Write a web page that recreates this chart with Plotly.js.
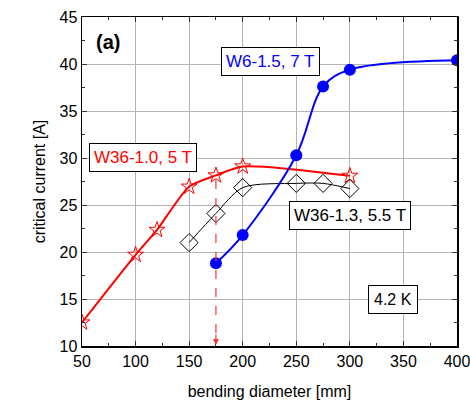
<!DOCTYPE html>
<html>
<head>
<meta charset="utf-8">
<script src="https://cdn.plot.ly/plotly-3.0.1.min.js"></script>
<style>html,body{margin:0;padding:0;background:#fff;}#chart{width:470px;height:402px;}</style>
</head>
<body>
<div id="chart"></div>
<script>
// W36-1.0, 5 T (red stars)
const redX = [50, 100, 120, 150, 175, 200, 300];
const redY = [12.5, 19.7, 22.35, 26.95, 28.15, 29.1, 28.1];
// W36-1.3, 5.5 T (black diamonds)
const blackX = [150, 175, 200, 250, 275, 300];
const blackY = [21.0, 24.1, 26.85, 27.3, 27.3, 26.75];
// W6-1.5, 7 T (blue circles)
const blueX = [175, 200, 250, 275, 300, 400];
const blueY = [18.8, 21.8, 30.3, 37.6, 39.4, 40.4];

const xTicks = [50, 100, 150, 200, 250, 300, 350, 400];
const yTicks = [10, 15, 20, 25, 30, 35, 40, 45];
const labels = {
  red: 'W36-1.0, 5 T', black: 'W36-1.3, 5.5 T', blue: 'W6-1.5, 7 T',
  temp: '4.2 K', panel: '(a)',
  xTitle: 'bending diameter [mm]', yTitle: 'critical current [A]'
};

const FONT = 'Arial, "Liberation Sans", sans-serif';
const arrowIdx = 4; // red point at 175 mm

const traces = [
  {x: redX, y: redY, mode: 'lines+markers', line: {color: '#ff0000', width: 2, shape: 'spline', smoothing: 0.7},
   marker: {symbol: 'star-open', size: 12, color: '#ff0000', line: {width: 1}}, showlegend: false},
  {x: blackX, y: blackY, mode: 'lines+markers', line: {color: '#000000', width: 1, shape: 'spline', smoothing: 0.8},
   marker: {symbol: 'diamond-open', size: 14, color: '#000000', line: {width: 1}}, showlegend: false},
  {x: blueX, y: blueY, mode: 'lines+markers', line: {color: '#0000ff', width: 2, shape: 'spline', smoothing: 1},
   marker: {symbol: 'circle', size: 12, color: '#0000ff'}, showlegend: false}
];

const axisCommon = {
  showline: true, linecolor: '#000', linewidth: 1.5, mirror: 'ticks',
  ticks: 'inside', ticklen: 5, tickwidth: 1, tickcolor: '#333',
  showgrid: true, gridcolor: '#b4b4b4', gridwidth: 1, zeroline: false,
  ticklabeloverflow: 'allow',
  tickfont: {family: FONT, size: 16, color: '#000'}
};

const layout = {
  width: 470, height: 402,
  margin: {l: 82, r: 13, t: 17, b: 56},
  paper_bgcolor: '#fff', plot_bgcolor: '#fff',
  font: {family: FONT, color: '#000'},
  xaxis: Object.assign({}, axisCommon, {
    range: [50, 400], tickvals: xTicks, ticktext: xTicks.map(String),
    minor: {ticks: 'inside', ticklen: 3, dtick: 25, tick0: 50, tickcolor: '#333', showgrid: false},
    title: {text: labels.xTitle, font: {family: FONT, size: 16}, standoff: 17}
  }),
  yaxis: Object.assign({}, axisCommon, {
    range: [10, 45], tickvals: yTicks, ticktext: yTicks.map(String),
    minor: {ticks: 'inside', ticklen: 3, dtick: 2.5, tick0: 10, tickcolor: '#333', showgrid: false},
    title: {text: labels.yTitle, font: {family: FONT, size: 16}, standoff: 10}
  }),
  shapes: [
    {type: 'line', xref: 'x', yref: 'y', x0: redX[arrowIdx], x1: redX[arrowIdx], y0: redY[arrowIdx] - 0.5, y1: 11,
     line: {color: '#ff3030', width: 1.2, dash: 'dash'}}
  ],
  annotations: [
    {x: redX[arrowIdx], y: 10.1, xref: 'x', yref: 'y', ax: 0, ay: -12, showarrow: true,
     arrowhead: 2, arrowsize: 1, arrowwidth: 1.2, arrowcolor: '#ff3030', text: ''},
    {x: 74.5, y: 42.3, xref: 'x', yref: 'y', text: '<b>' + labels.panel + '</b>', showarrow: false,
     font: {family: FONT, size: 20, color: '#000'}},
    {x: 225.6, y: 40.3, xref: 'x', yref: 'y', text: labels.blue, showarrow: false,
     font: {family: FONT, size: 17, color: '#0000ff'}, bgcolor: '#fff', bordercolor: '#000', borderwidth: 1, borderpad: 4},
    {x: 107.3, y: 30.1, xref: 'x', yref: 'y', text: labels.red, showarrow: false,
     font: {family: FONT, size: 17, color: '#ff0000'}, bgcolor: '#fff', bordercolor: '#000', borderwidth: 1, borderpad: 4},
    {x: 300.5, y: 23.9, xref: 'x', yref: 'y', text: labels.black, showarrow: false,
     font: {family: FONT, size: 17, color: '#000'}, bgcolor: '#fff', bordercolor: '#000', borderwidth: 1, borderpad: 4},
    {x: 340.2, y: 14.9, xref: 'x', yref: 'y', text: labels.temp, showarrow: false,
     font: {family: FONT, size: 16, color: '#000'}, bgcolor: '#fff', bordercolor: '#000', borderwidth: 1, borderpad: 5}
  ]
};

Plotly.newPlot('chart', traces, layout, {displayModeBar: false, staticPlot: true});
</script>
</body>
</html>
